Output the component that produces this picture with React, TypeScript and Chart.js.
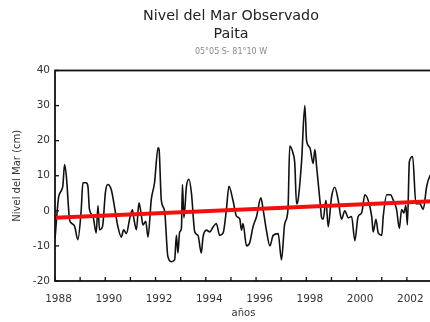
import React, { useEffect, useRef } from "react";
import { Chart, registerables } from "chart.js";

Chart.register(...registerables);

const years = [
  1988.0, 1988.15, 1988.31, 1988.38, 1988.45, 1988.58, 1988.65, 1988.78, 1988.91,
  1989.04, 1989.11, 1989.24, 1989.31, 1989.37, 1989.51, 1989.64, 1989.71, 1989.77, 1989.89,
  1990.01, 1990.1, 1990.24, 1990.37, 1990.5, 1990.64, 1990.73, 1990.84, 1990.97,
  1991.08, 1991.14, 1991.24, 1991.34, 1991.43, 1991.5, 1991.61, 1991.7, 1991.83, 1991.96,
  1992.1, 1992.14, 1992.23, 1992.36, 1992.49, 1992.63, 1992.76, 1992.83, 1992.89, 1992.96,
  1993.03, 1993.07, 1993.13, 1993.23, 1993.33, 1993.43, 1993.56, 1993.69, 1993.82, 1993.89,
  1994.02, 1994.16, 1994.29, 1994.42, 1994.55, 1994.69, 1994.82, 1994.92,
  1995.08, 1995.22, 1995.35, 1995.42, 1995.48, 1995.62, 1995.75, 1995.88,
  1996.02, 1996.19, 1996.28, 1996.41, 1996.55, 1996.68, 1996.88,
  1997.01, 1997.14, 1997.27, 1997.34, 1997.47, 1997.54, 1997.61, 1997.67, 1997.81, 1997.94,
  1998.01, 1998.14, 1998.27, 1998.34, 1998.41, 1998.54, 1998.61, 1998.67, 1998.78, 1998.87,
  1999.0, 1999.13, 1999.27, 1999.4, 1999.53, 1999.67, 1999.8, 1999.93,
  2000.06, 2000.2, 2000.33, 2000.46, 2000.6, 2000.66, 2000.77, 2000.86,
  2001.0, 2001.06, 2001.2, 2001.35, 2001.46, 2001.59, 2001.7, 2001.79, 2001.88, 2001.96,
  2002.02, 2002.1, 2002.23, 2002.36, 2002.52, 2002.65, 2002.79, 2002.92, 2003.0,
];

const seaLevel = [
  -8, 4.1, 7, 13.2, 10, -2.5, -3.5, -4.4, -8.2,
  0, 8, 8, 7, 0.4, -1.5, -6.3, 1.5, -5.4, -4.5,
  5.5, 7.5, 6, 1, -4.4, -7.5, -5.4, -6.5, -2.3,
  0.3, -2.3, -5.4, 2.3, -1, -4, -3, -7.5, 3.2, 8,
  18, 17.5, 3, 0, -13, -14.5, -14, -7, -12, -6,
  -5, 7.5, -2, 7, 9, 5, -6, -7, -12, -7.5,
  -5.5, -6, -4.6, -3.6, -7, -6.3, 0.4, 7,
  3, -1.5, -2.3, -5.5, -3.6, -10, -9, -4.5,
  -1.6, 3.7, 0.4, -5.5, -10, -7, -6.5,
  -14, -3.7, 0.4, 18.5, 16.4, 13.5, 2, 3, 14, 30,
  20, 18, 13.5, 17.5, 12.5, 3, -2, -2.4, 3, -4.5,
  3.8, 6.7, 3, -2.4, 0, -2, -1.6, -8.5,
  -1.6, -0.6, 4.6, 3, -1.6, -6, -2.4, -6.3,
  -7, -1.6, 4.6, 4.6, 3, 0.4, -5, 0.4, -0.6, 1.5,
  -4, 14, 15.5, 2, 2, 0.4, 7, 10, 10.5,
];

const trendYears = [1988, 2003];
const trendValues = [-2, 2.75];

const titleLines = ["Nivel del Mar Observado", "Paita"];
const subtitleText = "05°05 S- 81°10 W";
const xAxisTitle = "años";
const yAxisTitle = "Nivel del Mar (cm)";

const frameTicks = {
  id: "frameTicks",
  afterDatasetsDraw(chart: any) {
    const { ctx, chartArea, scales } = chart;
    const { left, right, top, bottom } = chartArea;
    ctx.save();
    ctx.strokeStyle = "#111";
    ctx.lineWidth = 1.3;
    scales.x.ticks.forEach((t: any) => {
      const px = scales.x.getPixelForValue(t.value);
      ctx.beginPath();
      ctx.moveTo(px, bottom);
      ctx.lineTo(px, bottom - 4);
      ctx.stroke();
    });
    scales.y.ticks.forEach((t: any) => {
      const py = scales.y.getPixelForValue(t.value);
      ctx.beginPath();
      ctx.moveTo(left, py);
      ctx.lineTo(left + 4, py);
      ctx.stroke();
    });
    ctx.lineWidth = 1.8;
    ctx.strokeRect(left, top, right - left, bottom - top);
    ctx.restore();
  },
};

export default function App() {
  const ref = useRef<HTMLCanvasElement>(null);
  useEffect(() => {
    document.body.style.margin = "0";
    const font = "'DejaVu Sans', sans-serif";
    const chart = new Chart(ref.current!, {
      type: "line",
      data: {
        datasets: [
          {
            data: trendYears.map((x, i) => ({ x, y: trendValues[i] })),
            borderColor: "#f01010",
            borderWidth: 4,
            pointRadius: 0,
            tension: 0,
          },
          {
            data: years.map((x, i) => ({ x, y: seaLevel[i] })),
            borderColor: "#111",
            borderWidth: 1.6,
            pointRadius: 0,
            cubicInterpolationMode: "monotone",
          },
        ],
      },
      options: {
        animation: false,
        responsive: false,
        maintainAspectRatio: false,
        layout: { padding: { top: 0, right: 30, bottom: 0, left: 30 } },
        plugins: {
          legend: { display: false },
          tooltip: { enabled: false },
          title: {
            display: true,
            text: titleLines,
            color: "#222",
            font: { family: font, size: 14.3, lineHeight: 1.29, weight: "normal" },
            padding: { top: 7, bottom: 3 },
          },
          subtitle: {
            display: true,
            text: subtitleText,
            color: "#888",
            font: { family: font, size: 8, lineHeight: 1.2 },
            padding: { top: 0, bottom: 14 },
          },
        },
        scales: {
          x: {
            type: "linear",
            min: 1988,
            max: 2003,
            grid: { display: false, drawTicks: false },
            border: { display: false },
            ticks: {
              stepSize: 1,
              padding: 11.5,
              labelOffset: 3.5,
              color: "#333",
              font: { family: font, size: 10.5 },
              maxRotation: 0,
              autoSkip: false,
              callback: (v: any) => (Number(v) % 2 === 0 ? String(v) : ""),
            },
            title: {
              display: true,
              text: xAxisTitle,
              color: "#333",
              font: { family: font, size: 10 },
              padding: { top: 0, bottom: 3 },
            },
            afterFit: (s: any) => {
              s.height = 41;
            },
          },
          y: {
            type: "linear",
            min: -20,
            max: 40,
            grid: { display: false, drawTicks: false },
            border: { display: false },
            ticks: {
              stepSize: 10,
              padding: 5,
              color: "#333",
              font: { family: font, size: 10.5 },
            },
            title: {
              display: true,
              text: yAxisTitle,
              color: "#333",
              font: { family: font, size: 10 },
              padding: { top: -19, bottom: 0 },
            },
            afterFit: (s: any) => {
              s.width = 25;
            },
          },
        },
      },
      plugins: [frameTicks],
    });
    return () => chart.destroy();
  }, []);
  return (
    <div style={{ width: 430, height: 322, overflow: "hidden", background: "#fff" }}>
      <canvas ref={ref} width={462} height={322} style={{ display: "block" }} />
    </div>
  );
}
